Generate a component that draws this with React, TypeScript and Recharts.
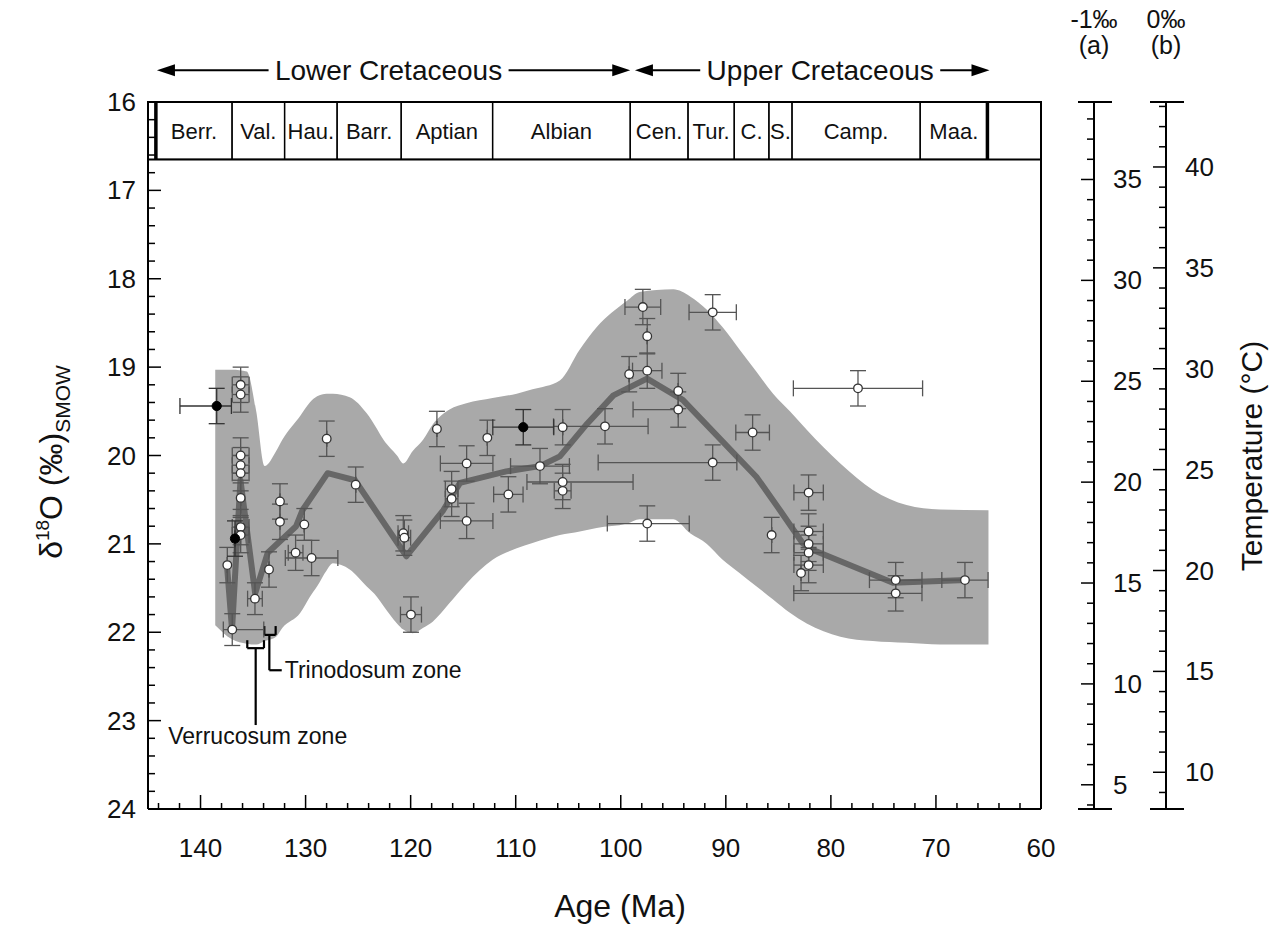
import React from 'react';
import {
  ComposedChart,
  XAxis,
  YAxis,
  Area,
  Line,
  Scatter,
  ErrorBar,
  ReferenceArea,
  ReferenceLine,
} from 'recharts';

const FONT = '"Liberation Sans", Arial, Helvetica, sans-serif';

// stage column (Ma)
const stageNames = ['Berr.', 'Val.', 'Hau.', 'Barr.', 'Aptian', 'Albian', 'Cen.', 'Tur.', 'C.', 'S.', 'Camp.', 'Maa.'];
const stageBounds = [144.25, 137.0, 132.0, 127.0, 120.9, 112.2, 99.1, 93.6, 89.2, 85.9, 83.7, 71.5, 65.1];

// grey envelope
const envAge = [
  138.6, 137.0, 135.6, 134.7, 133.9, 132.8, 132.2, 130.5, 129.6, 128.9, 128.0, 127.4, 125.8, 124.2, 123.2,
  122.6, 121.3, 120.7, 119.8, 118.8, 117.9, 116.3, 114.7, 112.2, 109.9, 108.4, 105.8, 103.9, 102.3, 99.4,
  98.2, 95.0, 93.4, 91.8, 90.3, 88.7, 87.1, 85.5, 83.9, 82.3, 79.1, 76.0, 72.8, 69.6, 65.0,
];
const envUpper = [
  19.03, 19.03, 19.05, 19.5, 20.12, 19.95, 19.82, 19.55, 19.4, 19.33, 19.3, 19.3, 19.34, 19.52, 19.7,
  19.82, 20.0, 20.09, 19.95, 19.82, 19.65, 19.48, 19.41, 19.35, 19.3, 19.25, 19.15, 18.8, 18.55, 18.25,
  18.15, 18.12, 18.2, 18.35, 18.55, 18.8, 19.05, 19.3, 19.5, 19.71, 20.09, 20.39, 20.56, 20.61, 20.62,
];
const envLower = [
  21.92, 22.08, 22.13, 22.14, 22.1, 22.05, 21.95, 21.78, 21.6, 21.48, 21.3, 21.22, 21.29, 21.48, 21.6,
  21.7, 21.9, 21.97, 22.01, 21.95, 21.88, 21.67, 21.45, 21.18, 21.05, 20.99, 20.9, 20.86, 20.82, 20.77,
  20.72, 20.72, 20.88, 21.0, 21.18, 21.33, 21.48, 21.63, 21.78, 21.9, 22.05, 22.1, 22.12, 22.14, 22.14,
];

// smoothed curve
const trendAge = [
  137.5, 137.0, 136.2, 134.8, 133.6, 130.9, 130.3, 127.9, 125.3, 120.4, 116.9, 115.3, 110.9, 107.7, 105.8,
  103.2, 100.7, 97.5, 94.1, 87.1, 84.9, 82.7, 81.7, 74.1, 67.1,
];
const trendD18O = [
  21.22, 21.97, 20.28, 21.56, 21.1, 20.8, 20.62, 20.2, 20.28, 21.14, 20.62, 20.31, 20.18, 20.12, 20.01,
  19.64, 19.32, 19.13, 19.37, 20.24, 20.61, 20.99, 21.07, 21.44, 21.41,
];

// open symbols
const openAge = [
  137.45, 136.98, 136.18, 136.18, 136.18, 136.18, 136.18, 136.18, 136.18, 136.18, 134.82, 133.48, 132.44, 132.44,
  130.95, 130.12, 129.43, 127.99, 125.23, 120.7, 120.6, 119.97, 117.5, 116.1, 116.1, 114.67, 114.67, 112.7,
  110.7, 107.69, 105.53, 105.53, 105.53, 101.5, 99.2, 97.9, 97.48, 97.48, 97.48, 94.53, 94.53, 91.25, 91.25,
  87.45, 85.64, 82.12, 82.12, 82.12, 82.12, 82.12, 82.84, 77.42, 73.83, 73.83, 67.24,
];
const openD18O = [
  21.24, 21.97, 19.2, 19.31, 20.0, 20.11, 20.2, 20.48, 20.81, 20.9, 21.62, 21.29, 20.52, 20.75,
  21.1, 20.78, 21.16, 19.81, 20.33, 20.88, 20.93, 21.8, 19.7, 20.38, 20.49, 20.09, 20.74, 19.8,
  20.44, 20.12, 19.68, 20.3, 20.4, 19.67, 19.08, 18.32, 18.65, 19.04, 20.77, 19.27, 19.48, 18.38, 20.08,
  19.74, 20.9, 20.42, 20.86, 21.0, 21.1, 21.24, 21.33, 19.24, 21.41, 21.56, 21.41,
];
// [younger side, older side] in Ma
const openXErr = [
  [0, 0], [3.0, 0.85], [0.8, 0.8], [0.8, 0.8], [0.8, 0.8], [0.8, 0.8], [0.8, 0.8], [0, 0], [0.8, 0.8], [0.8, 0.8],
  [0.7, 0.7], [0, 0], [0, 0], [0, 0], [0.7, 0.7], [0, 0], [2.5, 2.5], [0, 0], [0, 0], [0.5, 0.5], [0.6, 0.6],
  [1.0, 1.0], [0, 0], [0.6, 0.6], [0.6, 0.6], [2.5, 2.5], [2.5, 2.5], [0, 0], [1.4, 1.4], [2.8, 2.8], [0, 0],
  [6.7, 3.4], [0.8, 0.8], [4.1, 4.9], [0, 0], [1.7, 1.7], [0, 0], [1.4, 1.4], [4.0, 3.8], [0, 0], [0, 4.3],
  [2.25, 2.25], [2.3, 10.9], [1.6, 1.6], [0, 0], [1.4, 1.4], [1.4, 1.4], [1.4, 1.4], [1.4, 1.4], [1.4, 1.4],
  [0, 0], [6.15, 6.15], [2.5, 2.5], [2.5, 9.7], [2.2, 2.2],
];
const openYErr = [
  0.2, 0.18, 0.2, 0.2, 0.2, 0.2, 0.2, 0.2, 0.2, 0.2, 0.18, 0.2, 0.2, 0.2, 0.2, 0.18, 0.2, 0.2, 0.2, 0.2, 0.2,
  0.2, 0.2, 0.2, 0.2, 0.2, 0.2, 0.2, 0.2, 0.2, 0.2, 0.2, 0.2, 0.2, 0.2, 0.2, 0.2, 0.2, 0.2, 0.2, 0.2, 0.2, 0.2,
  0.2, 0.2, 0.2, 0.2, 0.2, 0.2, 0.2, 0.2, 0.2, 0.2, 0.2, 0.2,
];

// filled symbols
const fillAge = [138.46, 136.72, 109.28];
const fillD18O = [19.44, 20.94, 19.68];
const fillXErr = [[1.4, 3.5], [0, 0], [2.9, 2.9]];
const fillYErr = [0.2, 0.2, 0.2];

// axes
const ageLabels = [140, 130, 120, 110, 100, 90, 80, 70, 60];
const d18OLabels = [16, 17, 18, 19, 20, 21, 22, 23, 24];
const tempALabels = [5, 10, 15, 20, 25, 30, 35];
const tempBLabels = [10, 15, 20, 25, 30, 35, 40];
// temperature scales at top (16) and bottom (24) of the d18O axis
const tempADomain = [3.8, 38.84];
const tempBDomain = [8.18, 43.22];

const steps = (from: number, to: number, step: number) => {
  const out: number[] = [];
  for (let v = from; v <= to + 1e-9; v += step) out.push(Math.round(v * 10) / 10);
  return out;
};
const ageTicks = steps(60, 144, 2);
const d18OTicks = steps(16, 24, 0.2);
const tempATicks = steps(4, 38, 1);
const tempBTicks = steps(9, 43, 1);

const envData = envAge.map((age, i) => ({ age, band: [envUpper[i], envLower[i]] }));
const trendData = trendAge.map((age, i) => ({ age, d18O: trendD18O[i] }));
const openData = openAge.map((age, i) => ({ age, d18O: openD18O[i], xErr: openXErr[i], yErr: openYErr[i] }));
const fillData = fillAge.map((age, i) => ({ age, d18O: fillD18O[i], xErr: fillXErr[i], yErr: fillYErr[i] }));

const isMajor = (v: number, every: number) => Math.abs(v / every - Math.round(v / every)) < 1e-6;

const AgeTick = (props: any) => {
  const { x, y, payload } = props;
  const v = payload.value;
  const major = isMajor(v, 10);
  return (
    <g>
      <line x1={x} x2={x} y1={y} y2={y - (major ? 14 : 6)} stroke="#000" strokeWidth={1.5} />
      {major && ageLabels.includes(v) && (
        <text x={x} y={y + 48} textAnchor="middle" fontSize={26} fontFamily={FONT} fill="#111">
          {v}
        </text>
      )}
    </g>
  );
};

const LeftTick = (props: any) => {
  const { x, y, payload } = props;
  const v = payload.value;
  const major = isMajor(v, 1);
  return (
    <g>
      <line x1={x} x2={x + (major ? 13 : 7)} y1={y} y2={y} stroke="#000" strokeWidth={1.5} />
      {major && d18OLabels.includes(Math.round(v)) && (
        <text x={x - 12} y={y + 9} textAnchor="end" fontSize={26} fontFamily={FONT} fill="#111">
          {Math.round(v)}
        </text>
      )}
    </g>
  );
};

const makeTempTick = (labels: number[]) => (props: any) => {
  const { x, y, payload } = props;
  const v = payload.value;
  const major = isMajor(v, 5);
  return (
    <g>
      <line x1={x - (major ? 13 : 7)} x2={x} y1={y} y2={y} stroke="#000" strokeWidth={1.5} />
      {major && labels.includes(v) && (
        <text x={x + 19} y={y + 9} fontSize={26} fontFamily={FONT} fill="#111">
          {v}
        </text>
      )}
    </g>
  );
};

const makeTempDecor = (top: string, sub: string, title?: string) => (props: any) => {
  const vb = props.viewBox || {};
  const x = vb.x;
  const y0 = vb.y;
  const y1 = vb.y + vb.height;
  return (
    <g fontFamily={FONT} fill="#111">
      <line x1={x - 16} x2={x + 18} y1={y0} y2={y0} stroke="#000" strokeWidth={2} />
      <line x1={x - 16} x2={x + 18} y1={y1} y2={y1} stroke="#000" strokeWidth={2} />
      <text x={x} y={28} textAnchor="middle" fontSize={25}>
        {top}
      </text>
      <text x={x} y={54} textAnchor="middle" fontSize={25}>
        {sub}
      </text>
      {title && (
        <text x={x + 96} y={456} transform={`rotate(-90 ${x + 96} 456)`} textAnchor="middle" fontSize={30}>
          {title}
        </text>
      )}
    </g>
  );
};

const LeftTitle = () => (
  <text x={62} y={462} transform="rotate(-90 62 462)" textAnchor="middle" fontSize={32} fontFamily={FONT} fill="#111">
    <tspan>δ</tspan>
    <tspan fontSize={19} dy={-13}>18</tspan>
    <tspan dy={13}>O (‰)</tspan>
    <tspan fontSize={21} dy={8}>SMOW</tspan>
  </text>
);

const AgeTitle = (props: any) => {
  const vb = props.viewBox || {};
  return (
    <text x={vb.x + 472} y={917} textAnchor="middle" fontSize={32} fontFamily={FONT} fill="#111">
      Age (Ma)
    </text>
  );
};

const EraArrow = (props: any) => {
  const { x1, x2, y1, text, dx } = props;
  const left = Math.min(x1, x2);
  const right = Math.max(x1, x2);
  const y = y1;
  const mid = (left + right) / 2 + dx;
  const half = 120;
  return (
    <g>
      <line x1={left + 12} x2={mid - half} y1={y} y2={y} stroke="#000" strokeWidth={2} />
      <line x1={mid + half} x2={right - 12} y1={y} y2={y} stroke="#000" strokeWidth={2} />
      <polygon points={`${left},${y} ${left + 18},${y - 6} ${left + 18},${y + 6}`} fill="#000" />
      <polygon points={`${right},${y} ${right - 18},${y - 6} ${right - 18},${y + 6}`} fill="#000" />
      <text x={mid} y={y + 10} textAnchor="middle" fontSize={28} fontFamily={FONT} fill="#111">
        {text}
      </text>
    </g>
  );
};

const ZoneStem = (props: any) => {
  const { x1, y1, x2, y2, text, mode } = props;
  return (
    <g>
      <line x1={x1} y1={y1} x2={x2} y2={y2} stroke="#000" strokeWidth={2.2} />
      {mode === 'below' ? (
        <text x={x2 + 2} y={y2 + 19} textAnchor="middle" fontSize={23} fontFamily={FONT} fill="#111">
          {text}
        </text>
      ) : (
        <text x={x2 + 3} y={y2 + 8} fontSize={23} fontFamily={FONT} fill="#111">
          {text}
        </text>
      )}
    </g>
  );
};

const OpenDot = (p: any) => <circle cx={p.cx} cy={p.cy} r={4.3} fill="#fff" stroke="#333" strokeWidth={1.3} />;
const FillDot = (p: any) => <circle cx={p.cx} cy={p.cy} r={4.6} fill="#000" stroke="#000" strokeWidth={1} />;

const seg = (xa: number, ya: number, xb: number, yb: number) => [
  { x: xa, y: ya },
  { x: xb, y: yb },
];

export default function App() {
  return (
    <div style={{ position: 'absolute', left: 0, top: 0, width: 1279, height: 934, overflow: 'hidden', background: '#fff' }}>
      <ComposedChart width={1279} height={934} margin={{ top: 102, right: 0, bottom: 0, left: 0 }}>
        <XAxis
          dataKey="age"
          type="number"
          domain={[60, 145]}
          reversed
          allowDataOverflow
          ticks={ageTicks}
          interval={0}
          tickSize={0}
          tickMargin={0}
          tickLine={false}
          axisLine={{ stroke: '#000', strokeWidth: 2 }}
          tick={AgeTick}
          height={125}
          label={AgeTitle}
        />
        <YAxis
          dataKey="d18O"
          type="number"
          domain={[16, 24]}
          reversed
          allowDataOverflow
          ticks={d18OTicks}
          interval={0}
          width={148}
          tickSize={0}
          tickMargin={0}
          tickLine={false}
          axisLine={{ stroke: '#000', strokeWidth: 2 }}
          tick={LeftTick}
          label={LeftTitle}
        />
        <YAxis yAxisId="spacer" orientation="right" width={53} domain={[0, 1]} axisLine={false} tickLine={false} tick={false} />
        <YAxis
          yAxisId="tempA"
          orientation="right"
          type="number"
          width={72}
          domain={tempADomain}
          allowDataOverflow
          ticks={tempATicks}
          interval={0}
          tickSize={0}
          tickMargin={0}
          tickLine={false}
          axisLine={{ stroke: '#000', strokeWidth: 2 }}
          tick={makeTempTick(tempALabels)}
          label={makeTempDecor('-1‰', '(a)')}
        />
        <YAxis
          yAxisId="tempB"
          orientation="right"
          type="number"
          width={113}
          domain={tempBDomain}
          allowDataOverflow
          ticks={tempBTicks}
          interval={0}
          tickSize={0}
          tickMargin={0}
          tickLine={false}
          axisLine={{ stroke: '#000', strokeWidth: 2 }}
          tick={makeTempTick(tempBLabels)}
          label={makeTempDecor('0‰', '(b)', 'Temperature (°C)')}
        />

        <Area
          data={envData}
          dataKey="band"
          type="monotone"
          fill="#a9a9a9"
          fillOpacity={1}
          stroke="none"
          isAnimationActive={false}
        />
        <Line
          data={trendData}
          dataKey="d18O"
          type="linear"
          stroke="#676767"
          strokeWidth={6}
          strokeLinejoin="round"
          dot={false}
          isAnimationActive={false}
        />

        <ReferenceArea x1={145} x2={60} y1={16} y2={16.65} fill="#fff" fillOpacity={1} stroke="#000" strokeWidth={2} ifOverflow="visible" />
        {stageNames.map((name, i) => (
          <ReferenceArea
            key={name}
            x1={stageBounds[i]}
            x2={stageBounds[i + 1]}
            y1={16}
            y2={16.65}
            fill="#fff"
            fillOpacity={0}
            stroke="#000"
            strokeWidth={1.3}
            ifOverflow="visible"
            label={{ value: name, position: 'center', fill: '#111', fontSize: 22, fontFamily: FONT }}
          />
        ))}
        <ReferenceLine segment={seg(stageBounds[0], 16, stageBounds[0], 16.65)} stroke="#000" strokeWidth={3.5} ifOverflow="visible" />
        <ReferenceLine
          segment={seg(stageBounds[12], 16, stageBounds[12], 16.65)}
          stroke="#000"
          strokeWidth={3.5}
          ifOverflow="visible"
        />
        <ReferenceLine x={60} stroke="#000" strokeWidth={2} ifOverflow="visible" />

        <ReferenceLine
          segment={seg(144.15, 15.64, 99.1, 15.64)}
          ifOverflow="visible"
          shape={(p: any) => <EraArrow {...p} text="Lower Cretaceous" dx={-5} />}
        />
        <ReferenceLine
          segment={seg(98.65, 15.64, 64.9, 15.64)}
          ifOverflow="visible"
          shape={(p: any) => <EraArrow {...p} text="Upper Cretaceous" dx={8} />}
        />

        {/* zone brackets */}
        <ReferenceLine segment={seg(135.55, 22.09, 135.55, 22.18)} stroke="#000" strokeWidth={2.2} ifOverflow="visible" />
        <ReferenceLine segment={seg(133.96, 22.09, 133.96, 22.18)} stroke="#000" strokeWidth={2.2} ifOverflow="visible" />
        <ReferenceLine segment={seg(135.55, 22.18, 133.96, 22.18)} stroke="#000" strokeWidth={2.2} ifOverflow="visible" />
        <ReferenceLine
          segment={seg(134.75, 22.18, 134.75, 23.05)}
          ifOverflow="visible"
          shape={(p: any) => <ZoneStem {...p} text="Verrucosum zone" mode="below" />}
        />
        <ReferenceLine segment={seg(133.93, 21.93, 133.93, 22.03)} stroke="#000" strokeWidth={2.2} ifOverflow="visible" />
        <ReferenceLine segment={seg(132.85, 21.93, 132.85, 22.03)} stroke="#000" strokeWidth={2.2} ifOverflow="visible" />
        <ReferenceLine segment={seg(133.93, 22.03, 132.85, 22.03)} stroke="#000" strokeWidth={2.2} ifOverflow="visible" />
        <ReferenceLine segment={seg(133.45, 22.03, 133.45, 22.43)} stroke="#000" strokeWidth={2.2} ifOverflow="visible" />
        <ReferenceLine
          segment={seg(133.45, 22.43, 132.27, 22.43)}
          ifOverflow="visible"
          shape={(p: any) => <ZoneStem {...p} text="Trinodosum zone" mode="right" />}
        />

        <Scatter data={openData} dataKey="d18O" shape={OpenDot} isAnimationActive={false}>
          <ErrorBar dataKey="xErr" direction="x" width={8} stroke="#555" strokeWidth={1.3} />
          <ErrorBar dataKey="yErr" direction="y" width={8} stroke="#555" strokeWidth={1.3} />
        </Scatter>
        <Scatter data={fillData} dataKey="d18O" shape={FillDot} isAnimationActive={false}>
          <ErrorBar dataKey="xErr" direction="x" width={8} stroke="#333" strokeWidth={1.3} />
          <ErrorBar dataKey="yErr" direction="y" width={8} stroke="#333" strokeWidth={1.3} />
        </Scatter>
      </ComposedChart>
    </div>
  );
}
